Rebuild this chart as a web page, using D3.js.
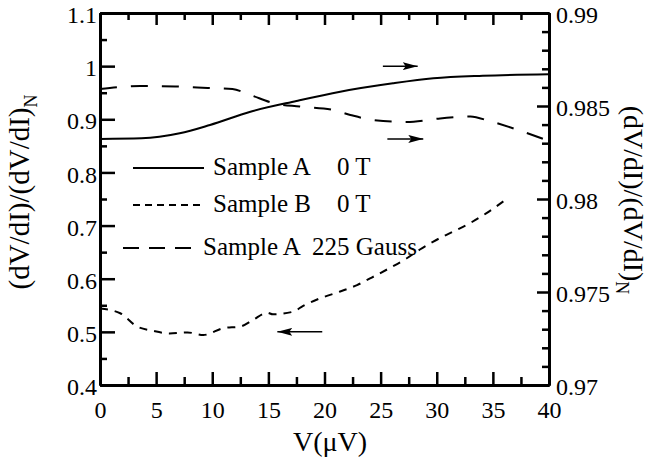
<!DOCTYPE html>
<html>
<head>
<meta charset="utf-8">
<script src="https://cdn.jsdelivr.net/npm/d3@7"></script>
<style>
  body { margin: 0; background: #fff; }
  svg { display: block; }
  svg text { font-family: "Liberation Serif", "Times New Roman", Times, serif; fill: #000; }
</style>
</head>
<body>
<svg width="652" height="462"></svg>
<script>
// Sample A, 0 T (right axis)
const voltsA0 = [0, 3.7, 7.1, 9.8, 13.4, 17.5, 21.4, 26.1, 29.7, 34.1, 40];
const ratioA0 = [0.98323, 0.98326, 0.98353, 0.98398, 0.98469, 0.98527, 0.98577, 0.98622, 0.98649, 0.98663, 0.98671];

// Sample B, 0 T (left axis)
const voltsB0 = [0, 1.8, 3.3, 4.7, 6.2, 7.8, 9.2, 11.0, 12.5, 13.6, 14.9, 15.4, 17.2, 18.1, 19.6, 21.4, 22.9, 24.1, 25.8, 27.3, 28.5, 29.7, 31.4, 33.0, 34.4, 36.1];
const ratioB0 = [0.544, 0.535, 0.510, 0.502, 0.497, 0.499, 0.494, 0.507, 0.510, 0.522, 0.536, 0.533, 0.538, 0.549, 0.563, 0.576, 0.588, 0.601, 0.620, 0.638, 0.655, 0.670, 0.688, 0.705, 0.723, 0.748];

// Sample A, 225 Gauss (right axis)
const voltsA225 = [0, 3.6, 6.7, 9.6, 11.8, 13.4, 15.6, 17.8, 20.8, 22.3, 24.3, 27.3, 30.3, 33.0, 34.7, 37.0, 40];
const ratioA225 = [0.98591, 0.98608, 0.98605, 0.98597, 0.98591, 0.98559, 0.98513, 0.98497, 0.98478, 0.98452, 0.98425, 0.98414, 0.98433, 0.98444, 0.98419, 0.98376, 0.98312];

const xTicks = [0, 5, 10, 15, 20, 25, 30, 35, 40];
const xMinor = [2.5, 7.5, 12.5, 17.5, 22.5, 27.5, 32.5, 37.5];
const leftTicks = [0.4, 0.5, 0.6, 0.7, 0.8, 0.9, 1.0, 1.1];
const leftMinor = [0.45, 0.55, 0.65, 0.75, 0.85, 0.95, 1.05];
const rightTicks = [0.97, 0.975, 0.98, 0.985, 0.99];
const rightMinor = [0.971, 0.972, 0.973, 0.974, 0.976, 0.977, 0.978, 0.979, 0.981, 0.982, 0.983, 0.984, 0.986, 0.987, 0.988, 0.989];

const legendNames = ["Sample A", "Sample B", "Sample A"];
const legendFields = ["0 T", "0 T", "225 Gauss"];

const svg = d3.select("svg");
const plotL = 100, plotR = 549, plotT = 13, plotB = 385;

const x = d3.scaleLinear().domain([0, 40]).range([plotL, plotR]);
const yL = d3.scaleLinear().domain([0.4, 1.1]).range([plotB, plotT]);
const yR = d3.scaleLinear().domain([0.97, 0.99]).range([plotB, plotT]);

const fmt = d => String(+d.toFixed(3));

function drawAxis(axis, tx, ty, cls) {
  const g = svg.append("g")
    .attr("class", cls)
    .attr("transform", `translate(${tx},${ty})`)
    .call(axis);
  g.attr("font-family", null).attr("font-size", null);
  g.selectAll("path.domain").attr("stroke-width", 3).attr("stroke", "#000");
  g.selectAll("line").attr("stroke-width", 2.5).attr("stroke", "#000");
  g.selectAll("text").attr("font-size", 24);
  return g;
}

// minor ticks first
drawAxis(d3.axisBottom(x).tickValues(xMinor).tickSize(-8).tickSizeOuter(0).tickFormat(""), 0, plotB, "xminor");
drawAxis(d3.axisTop(x).tickValues(xMinor).tickSize(-7).tickSizeOuter(0).tickFormat(""), 0, plotT, "xminor-top");
drawAxis(d3.axisLeft(yL).tickValues(leftMinor).tickSize(-7).tickSizeOuter(0).tickFormat(""), plotL, 0, "lminor");
drawAxis(d3.axisRight(yR).tickValues(rightMinor).tickSize(-7).tickSizeOuter(0).tickFormat(""), plotR, 0, "rminor");

// major ticks
drawAxis(d3.axisBottom(x).tickValues(xTicks).tickSize(-13).tickSizeOuter(0).tickPadding(16).tickFormat(fmt), 0, plotB, "xaxis");
drawAxis(d3.axisTop(x).tickValues(xTicks).tickSize(-12).tickSizeOuter(0).tickFormat(""), 0, plotT, "xaxis-top");
drawAxis(d3.axisLeft(yL).tickValues(leftTicks).tickSize(-15).tickSizeOuter(0).tickPadding(3).tickFormat(fmt), plotL, 0, "laxis")
  .selectAll("text").attr("dy", "0.4em");
drawAxis(d3.axisRight(yR).tickValues(rightTicks).tickSize(-12).tickSizeOuter(0).tickPadding(7).tickFormat(fmt), plotR, 0, "raxis")
  .selectAll("text").attr("dy", "0.4em");

// curves
const lineR = d3.line().x(d => x(d[0])).y(d => yR(d[1])).curve(d3.curveMonotoneX);
const lineL = d3.line().x(d => x(d[0])).y(d => yL(d[1])).curve(d3.curveMonotoneX);

svg.append("path")
  .attr("d", lineR(d3.zip(voltsA0, ratioA0)))
  .attr("fill", "none").attr("stroke", "#000").attr("stroke-width", 2);

svg.append("path")
  .attr("d", lineL(d3.zip(voltsB0, ratioB0)))
  .attr("fill", "none").attr("stroke", "#000").attr("stroke-width", 2)
  .attr("stroke-dasharray", "8,7");

svg.append("path")
  .attr("d", lineR(d3.zip(voltsA225, ratioA225)))
  .attr("fill", "none").attr("stroke", "#000").attr("stroke-width", 2)
  .attr("stroke-dasharray", "17,14");

// legend
const legendDash = [null, "7,5", "16,10"];
const legendLineX = [[133, 204], [133, 205], [123, 198]];
const legendY = [168, 205, 248];
const legendTextX = [213, 213, 203];
const legendFieldX = [337, 337, 312];

legendNames.forEach((name, i) => {
  svg.append("line")
    .attr("x1", legendLineX[i][0]).attr("x2", legendLineX[i][1])
    .attr("y1", legendY[i]).attr("y2", legendY[i])
    .attr("stroke", "#000").attr("stroke-width", 2)
    .attr("stroke-dasharray", legendDash[i]);
  svg.append("text")
    .attr("x", legendTextX[i]).attr("y", legendY[i] + 7)
    .attr("font-size", 25)
    .text(name);
  svg.append("text")
    .attr("x", legendFieldX[i]).attr("y", legendY[i] + 7)
    .attr("font-size", 25)
    .text(legendFields[i]);
});

// arrows indicating which axis each curve belongs to
svg.append("defs").append("marker")
  .attr("id", "head")
  .attr("viewBox", "0 0 15 8")
  .attr("refX", 15).attr("refY", 4)
  .attr("markerWidth", 15).attr("markerHeight", 8)
  .attr("markerUnits", "userSpaceOnUse")
  .attr("orient", "auto")
  .append("path").attr("d", "M0,0L15,4L0,8L3,4Z").attr("fill", "#000");

const arrows = [
  { x0: 25.2, x1: 28.3, y: 1.0 },
  { x0: 25.6, x1: 28.8, y: 0.863 },
  { x0: 19.8, x1: 15.8, y: 0.50 }
];
svg.selectAll("line.arrow")
  .data(arrows)
  .enter().append("line")
  .attr("class", "arrow")
  .attr("x1", d => x(d.x0)).attr("x2", d => x(d.x1))
  .attr("y1", d => yL(d.y)).attr("y2", d => yL(d.y))
  .attr("stroke", "#000").attr("stroke-width", 1.5)
  .attr("marker-end", "url(#head)");

// axis titles
svg.append("text")
  .attr("transform", `translate(29,${(plotT + plotB) / 2 - 7}) rotate(-90)`)
  .attr("text-anchor", "middle")
  .attr("font-size", 29)
  .text("(dV/dI)/(dV/dI)")
  .append("tspan").attr("font-size", 18).attr("dy", 8).text("N");

svg.append("text")
  .attr("transform", `translate(624,${(plotT + plotB) / 2 + 1}) rotate(90)`)
  .attr("text-anchor", "middle")
  .attr("font-size", 28)
  .text("(dV/dI)/(dV/dI)")
  .append("tspan").attr("font-size", 18).attr("dy", 8).text("N");

svg.append("text")
  .attr("x", 330).attr("y", 451)
  .attr("text-anchor", "middle")
  .attr("font-size", 28)
  .text("V(μV)");
</script>
</body>
</html>
